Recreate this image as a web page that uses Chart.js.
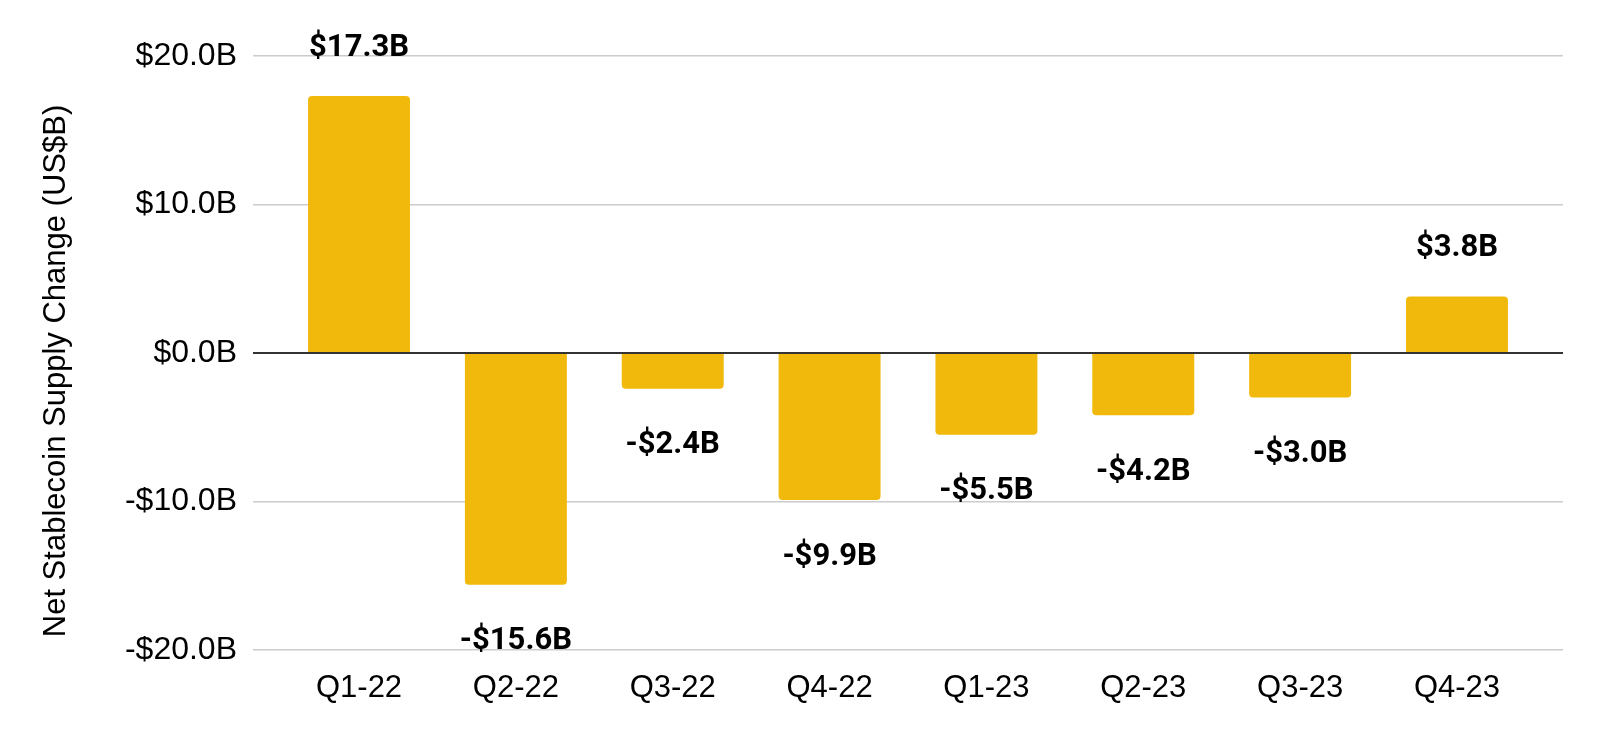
<!DOCTYPE html>
<html>
<head>
<meta charset="utf-8">
<script src="https://cdn.jsdelivr.net/npm/chart.js@4.4.1/dist/chart.umd.min.js"></script>
<style>
html,body{margin:0;padding:0;background:#fff;}
#wrap{width:1600px;height:742px;position:relative;}
</style>
</head>
<body>
<div id="wrap"><canvas id="c" width="1600" height="742"></canvas></div>
<script>
const categories = ['Q1-22','Q2-22','Q3-22','Q4-22','Q1-23','Q2-23','Q3-23','Q4-23'];
const supplyChange = [17.3, -15.6, -2.4, -9.9, -5.5, -4.2, -3.0, 3.8];
const yTicks = [-20, -10, 0, 10, 20];
const axisTitle = 'Net Stablecoin Supply Change (US$B)';

function fmt(v){
  const s = '$' + Math.abs(v).toFixed(1) + 'B';
  return v < 0 ? '-' + s : s;
}

const points = supplyChange.map((v,i)=>({x:i, y:v}));

const labelPlugin = {
  id:'valueLabels',
  afterDatasetsDraw(chart){
    const ctx = chart.ctx;
    const meta = chart.getDatasetMeta(0);
    ctx.save();
    ctx.font = 'bold 31px Roboto';
    ctx.fillStyle = '#000';
    ctx.textAlign = 'center';
    ctx.textBaseline = 'middle';
    meta.data.forEach((bar,i)=>{
      const v = supplyChange[i];
      const y = v >= 0 ? bar.y - 48 : bar.y + 57;
      ctx.fillText(fmt(v), bar.x, y);
    });
    ctx.restore();
  }
};

const titlePlugin = {
  id:'yTitle',
  afterDraw(chart){
    const ctx = chart.ctx;
    ctx.save();
    ctx.translate(56, chart.height/2);
    ctx.rotate(-Math.PI/2);
    ctx.font = '31px "Liberation Sans", Arial, sans-serif';
    ctx.fillStyle = '#000';
    ctx.textAlign = 'center';
    ctx.textBaseline = 'middle';
    ctx.fillText(axisTitle, 0, 0);
    ctx.restore();
  }
};

new Chart(document.getElementById('c'), {
  type:'bar',
  data:{
    datasets:[{
      data: points,
      backgroundColor:'#F0B90B',
      borderRadius:4,
      borderSkipped:'start',
      barPercentage:0.65,
      categoryPercentage:1
    }]
  },
  options:{
    responsive:false,
    animation:false,
    events:[],
    layout:{padding:{left:0,right:37,top:56,bottom:0}},
    plugins:{legend:{display:false}, tooltip:{enabled:false}},
    scales:{
      x:{
        type:'linear',
        offset:false,
        min:-0.676,
        max:7.676,
        afterBuildTicks(scale){ scale.ticks = categories.map((c,i)=>({value:i})); },
        afterFit(scale){ scale.height = 92; },
        grid:{display:false, drawTicks:false, offset:false},
        border:{display:false},
        ticks:{
          callback:(v)=>categories[v],
          font:{family:'"Liberation Sans", Arial, sans-serif', size:31},
          color:'#000',
          padding:20,
          maxRotation:0,
          autoSkip:false
        }
      },
      y:{
        min:-20,
        max:20,
        afterBuildTicks(scale){ scale.ticks = yTicks.map(v=>({value:v})); },
        afterFit(scale){ scale.width = 253; },
        grid:{
          drawTicks:false,
          color:(c)=> c.tick && c.tick.value === 0 ? '#333333' : '#cccccc',
          lineWidth:(c)=> c.tick && c.tick.value === 0 ? 2 : 1.5
        },
        border:{display:false},
        ticks:{
          callback:(v)=>fmt(v),
          font:{family:'"Liberation Sans", Arial, sans-serif', size:32},
          color:'#000',
          padding:16
        }
      }
    }
  },
  plugins:[labelPlugin, titlePlugin]
});
</script>
</body>
</html>
